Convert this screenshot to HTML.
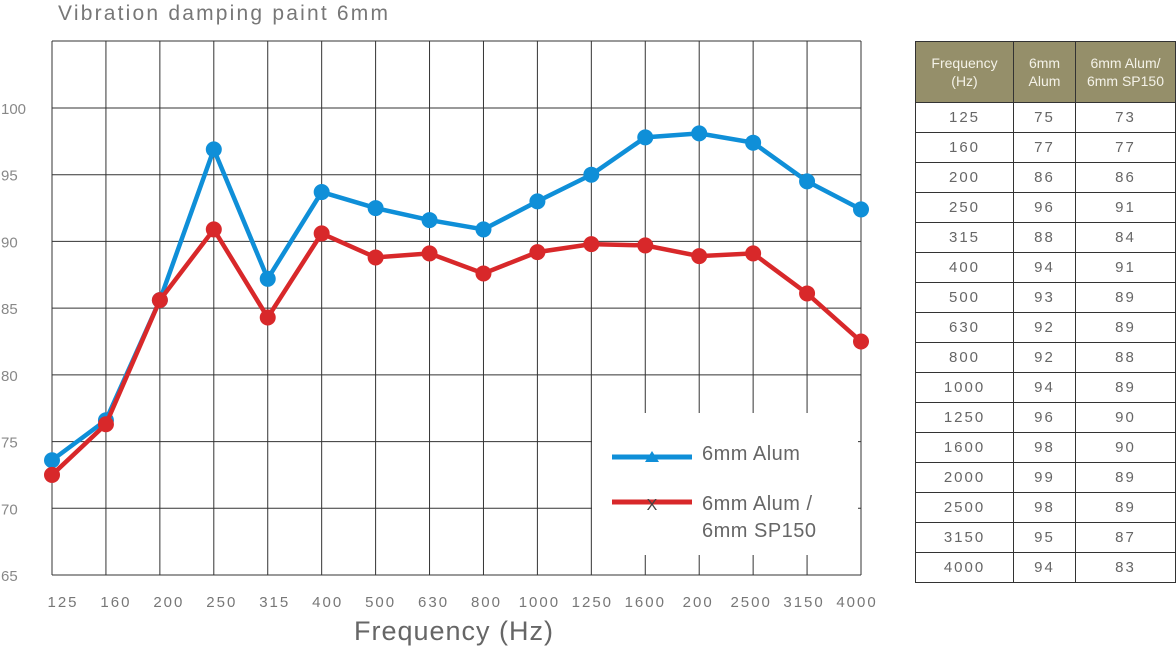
<!DOCTYPE html>
<html><head><meta charset="utf-8"><style>
body{margin:0;background:#fff;font-family:"Liberation Sans",sans-serif;}
svg text{font-family:"Liberation Sans",sans-serif;}
table{position:absolute;left:915px;top:41px;border-collapse:collapse;width:261px;}
td,th{border:1px solid #333;text-align:center;color:#666;font-size:15px;letter-spacing:2px;height:29px;padding:0;font-weight:normal}
th{background:#958f6a;color:#f4f2e8;font-size:14px;letter-spacing:0;height:60px;line-height:18px}
</style></head><body>
<svg width="1176" height="646" style="position:absolute;left:0;top:0">
<text x="58" y="20" font-size="21" fill="#777" letter-spacing="2.2">Vibration damping paint 6mm</text>
<g id="grid"></g><g id="lines"></g>
<rect x="592" y="413" width="266" height="142" fill="#fff"/>
<line x1="612" y1="457" x2="692" y2="457" stroke="#0f8fd8" stroke-width="5"/>
<polygon points="652,451 645,462 659,462" fill="#0f8fd8"/>
<text x="702" y="460" font-size="20" fill="#666" letter-spacing="0.5">6mm Alum</text>
<line x1="612" y1="502" x2="692" y2="502" stroke="#d8282a" stroke-width="5"/>
<text x="652" y="510" font-size="16" fill="#444" text-anchor="middle">X</text>
<text x="702" y="510" font-size="20" fill="#666" letter-spacing="0.5">6mm Alum /</text>
<text x="702" y="537" font-size="20" fill="#666" letter-spacing="0.5">6mm SP150</text>
<text x="454" y="640" font-size="27" fill="#666" text-anchor="middle" letter-spacing="1">Frequency (Hz)</text>
</svg>
<table>
<tr><th style="width:97px">Frequency<br>(Hz)</th><th style="width:61px">6mm<br>Alum</th><th>6mm Alum/<br>6mm SP150</th></tr>
<tbody id="tb"></tbody></table>
<script>
const categories=["125","160","200","250","315","400","500","630","800","1000","1250","1600","200","2500","3150","4000"];
const alum=[73.6,76.6,85.6,96.9,87.2,93.7,92.5,91.6,90.9,93.0,95.0,97.8,98.1,97.4,94.5,92.4];
const sp150=[72.5,76.3,85.6,90.9,84.3,90.6,88.8,89.1,87.6,89.2,89.8,89.7,88.9,89.1,86.1,82.5];
const yTicks=[65,70,75,80,85,90,95,100];
const tFreq=["125","160","200","250","315","400","500","630","800","1000","1250","1600","2000","2500","3150","4000"];
const tAlum=[75,77,86,96,88,94,93,92,92,94,96,98,99,98,95,94];
const tSp=[73,77,86,91,84,91,89,89,88,89,90,90,89,89,87,83];
const L=52,R=861,T=41,B=575;
const x=i=>L+i*(R-L)/(categories.length-1);
const y=v=>B-(v-65)*(B-108)/35;
const NS="http://www.w3.org/2000/svg";
function mk(p,t,a){const e=document.createElementNS(NS,t);for(const k in a)e.setAttribute(k,a[k]);p.appendChild(e);return e;}
const g=document.getElementById('grid');
categories.forEach((c,i)=>{
 const l=mk(g,'line',{x1:x(i),x2:x(i),y1:T,y2:B,stroke:'#333','stroke-width':1});
 
 
 const t=mk(g,'text',{x:63+i*(857-63)/15,y:607,'font-size':15,fill:'#777','text-anchor':'middle','letter-spacing':2});
 t.textContent=c;
 
 
});
yTicks.forEach(v=>{
 mk(g,'line',{x1:L,x2:R,y1:y(v),y2:y(v),stroke:'#333','stroke-width':1});
 const t=mk(g,'text',{x:1,y:y(v)+6,'font-size':15,fill:'#888'});
 t.textContent=v;
 
 
});
mk(g,'line',{x1:L,x2:R,y1:T,y2:T,stroke:'#333'});
const lg=document.getElementById('lines');
[[alum,'#0f8fd8','alum'],[sp150,'#d8282a','sp150']].forEach(([d,c,n])=>{
 const p=mk(lg,'polyline',{points:d.map((v,i)=>x(i)+','+y(v)).join(' '),fill:'none',stroke:c,'stroke-width':4.5});
 
 
 d.forEach((v,i)=>{const m=mk(lg,'circle',{cx:x(i),cy:y(v),r:8,fill:c});
  
  });
});
const tb=document.getElementById('tb');
tFreq.forEach((f,i)=>{const r=document.createElement('tr');
 r.innerHTML='<td>'+f+'</td><td>'+tAlum[i]+'</td><td>'+tSp[i]+'</td>';
 
 
 tb.appendChild(r);});
</script>
</body></html>
